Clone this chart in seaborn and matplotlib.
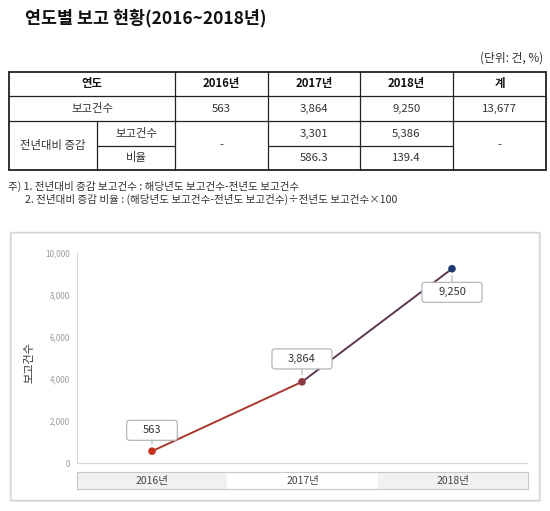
import matplotlib.pyplot as plt
import seaborn as sns
from matplotlib.patches import Rectangle, BoxStyle

# data
years = ['2016년', '2017년', '2018년']
reports = [563, 3864, 9250]
total_reports = 13677
diff_counts = [3301, 5386]     # 2017, 2018
diff_rates = [586.3, 139.4]    # 2017, 2018
y_ticks = [0, 2000, 4000, 6000, 8000, 10000]

title = '연도별 보고 현황(2016~2018년)'
unit = '(단위: 건, %)'
notes = ['주) 1. 전년대비 증감 보고건수 : 해당년도 보고건수-전년도 보고건수',
         '2. 전년대비 증감 비율 : (해당년도 보고건수-전년도 보고건수)÷전년도 보고건수×100']

point_colors = ['#c4341c', '#8c3a42', '#1b3a6f']
seg_colors = ['#a9372e', '#5a3852']

sns.set_theme(style='white')
plt.rcParams['font.family'] = ['Noto Sans CJK KR', 'DejaVu Sans']

W, H = 550, 511
fig = plt.figure(figsize=(W / 100, H / 100), dpi=100)

# background layer in pixel units (table, notes, chart frame)
bg = fig.add_axes([0, 0, 1, 1], zorder=0)
bg.set_xlim(0, W)
bg.set_ylim(H, 0)
bg.axis('off')

bg.text(25, 18, title, fontsize=12.5, fontweight='bold', color='#111', va='center', ha='left')
bg.text(543, 58, unit, fontsize=8.5, color='#333', va='center', ha='right')

cols = [9, 175, 268, 360, 453, 546]
rows = [72, 96, 121, 146, 170]
sub_x = 97
dark = '#222'

# table lines
for y in [rows[0], rows[-1]]:
    bg.plot([cols[0], cols[-1]], [y, y], color=dark, lw=1.3)
for y in [rows[1], rows[2]]:
    bg.plot([cols[0], cols[-1]], [y, y], color=dark, lw=0.9)
bg.plot([sub_x, cols[1]], [rows[3], rows[3]], color=dark, lw=0.9)
bg.plot([cols[2], cols[4]], [rows[3], rows[3]], color=dark, lw=0.9)
for x in [cols[0], cols[-1]]:
    bg.plot([x, x], [rows[0], rows[-1]], color=dark, lw=1.3)
for x in cols[1:-1]:
    bg.plot([x, x], [rows[0], rows[-1]], color=dark, lw=0.9)
bg.plot([sub_x, sub_x], [rows[2], rows[-1]], color=dark, lw=0.9)

def cell(x, y, s, bold=False):
    bg.text(x, y, s, ha='center', va='center', fontsize=8.2,
            fontweight='bold' if bold else 'normal', color='#111' if bold else '#333')

mid = lambda a, b: (a + b) / 2
cx = [mid(cols[i], cols[i + 1]) for i in range(5)]
r1, r2 = mid(rows[0], rows[1]), mid(rows[1], rows[2])
r3, r4 = mid(rows[2], rows[3]), mid(rows[3], rows[4])
r34 = mid(rows[2], rows[4])

cell(cx[0], r1, '연도', bold=True)
for i, yr in enumerate(years):
    cell(cx[i + 1], r1, yr, bold=True)
cell(cx[4], r1, '계', bold=True)

cell(cx[0], r2, '보고건수')
for i, v in enumerate(reports):
    cell(cx[i + 1], r2, f'{v:,}')
cell(cx[4], r2, f'{total_reports:,}')

cell(mid(cols[0], sub_x), r34, '전년대비 증감')
cell(mid(sub_x, cols[1]), r3, '보고건수')
cell(mid(sub_x, cols[1]), r4, '비율')
cell(cx[1], r34, '-')
cell(cx[4], r34, '-')
for i in range(2):
    cell(cx[i + 2], r3, f'{diff_counts[i]:,}')
    cell(cx[i + 2], r4, f'{diff_rates[i]:.1f}')

bg.text(8, 186, notes[0], fontsize=7.6, color='#333', va='center', ha='left')
bg.text(25, 199, notes[1], fontsize=7.6, color='#333', va='center', ha='left')

# chart frame with a faint shadow
bg.add_patch(Rectangle((11, 233), 529, 268, fill=False, ec='#e6e6e6', lw=1.2))
bg.add_patch(Rectangle((10, 232), 529, 268, fill=False, ec='#d4d4d4', lw=1))

# line chart
ax = fig.add_axes([77 / W, 1 - 463 / H, 450 / W, 210 / H], zorder=1)
ax.set_facecolor('none')
xs = list(range(len(years)))
for i in range(len(years) - 1):
    sns.lineplot(x=xs[i:i + 2], y=reports[i:i + 2], color=seg_colors[i], lw=1.4, ax=ax)
sns.scatterplot(x=xs, y=reports, hue=years, palette=point_colors, s=30,
                edgecolor='none', legend=False, ax=ax, zorder=3)

ax.set_xlim(-0.5, 2.5)
ax.set_ylim(0, 10000)
ax.set_yticks(y_ticks)
ax.set_yticklabels([f'{v:,}' for v in y_ticks], fontsize=5.8, color='#9a9a9a')
ax.set_xticks([0.5, 1.5])
ax.set_xticklabels([])
ax.tick_params(axis='y', length=0, pad=5)
ax.tick_params(axis='x', length=2, color='#d0d0d0', direction='in')
for side in ['top', 'right']:
    ax.spines[side].set_visible(False)
for side in ['left', 'bottom']:
    ax.spines[side].set_color('#d6d6d6')
    ax.spines[side].set_linewidth(0.8)
ax.set_ylabel('보고건수', fontsize=8, color='#333')
ax.yaxis.set_label_coords(-0.095, 0.48)
ax.set_xlabel('')


def label_box(x0, y0, width, height, mutation_size):
    padx, pady = mutation_size * 1.45, mutation_size * 0.45
    return BoxStyle.Round(pad=0, rounding_size=0.3)(
        x0 - padx, y0 - pady, width + 2 * padx, height + 2 * pady, mutation_size)


offsets = [15, 16.5, -17]
for x, v, off in zip(xs, reports, offsets):
    ax.annotate(f'{v:,}', (x, v), xytext=(0, off), textcoords='offset points',
                ha='center', va='center', fontsize=8, fontweight='medium', color='#333',
                bbox=dict(boxstyle=label_box, fc='white', ec='#b5b5b5', lw=0.9),
                arrowprops=dict(arrowstyle='-', color='#b5b5b5', lw=0.8, shrinkA=0, shrinkB=5),
                zorder=4)

# category band under the axis
band = fig.add_axes([77 / W, 1 - 489 / H, 451 / W, 17 / H], zorder=1)
band.set_xlim(-0.5, 2.5)
band.set_ylim(0, 1)
for i, yr in enumerate(years):
    if i != 1:
        band.axvspan(i - 0.5, i + 0.5, color='#f1f1f1', lw=0)
    band.text(i, 0.5, yr, ha='center', va='center', fontsize=7.5, color='#444')
band.set_xticks([])
band.set_yticks([])
for s in band.spines.values():
    s.set_color('#c8c8c8')
    s.set_linewidth(0.8)

fig.savefig('out.png', dpi=100)
